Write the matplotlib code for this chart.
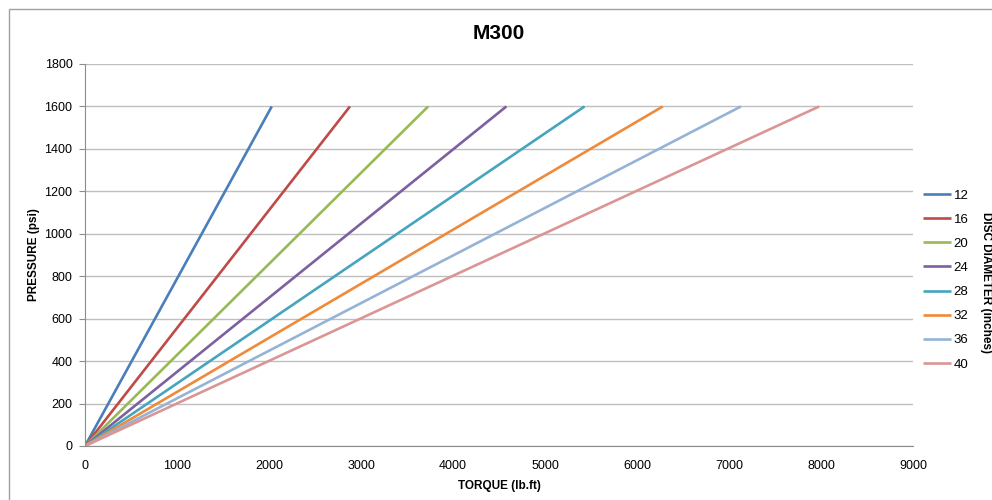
import matplotlib
matplotlib.use("Agg")
import matplotlib.pyplot as plt
from matplotlib.patches import Rectangle

diameters = ["12", "16", "20", "24", "28", "32", "36", "40"]
max_torque = [2030, 2880, 3730, 4580, 5430, 6280, 7130, 7980]
pressure_range = [0, 1600]
colors = ["#4A7EBB", "#BE4B48", "#98B954", "#7D60A0", "#46A5BE", "#EE8A3A", "#95B3D7", "#D99694"]
xticks = [0, 1000, 2000, 3000, 4000, 5000, 6000, 7000, 8000, 9000]
yticks = [0, 200, 400, 600, 800, 1000, 1200, 1400, 1600, 1800]

plt.rcParams['font.family'] = ['Liberation Sans', 'DejaVu Sans']
narrow = ['Liberation Sans Narrow', 'Liberation Sans', 'DejaVu Sans']

fig = plt.figure(figsize=(9.92, 5.0), dpi=100)
fig.patches.append(Rectangle((9/992, -0.1), 1.2, (500-9)/500 + 0.1, transform=fig.transFigure,
                             fill=False, edgecolor="#A0A0A0", linewidth=1.0))
ax = fig.add_axes([85/992, 54/500, 828/992, 382/500])

for d, t, c in zip(diameters, max_torque, colors):
    ax.plot([0, t], pressure_range, color=c, linewidth=1.9, label=d, solid_capstyle='butt')

ax.set_xlim(0, 9000)
ax.set_ylim(0, 1800)
ax.set_xticks(xticks)
ax.set_yticks(yticks)
ax.set_xticklabels([str(v) for v in xticks], fontsize=9, family=narrow)
ax.set_yticklabels([str(v) for v in yticks], fontsize=9, family=narrow)
ax.yaxis.grid(True, color="#BFBFBF", linewidth=1.0)
ax.set_axisbelow(True)
for s in ["top", "right"]:
    ax.spines[s].set_visible(False)
for s in ["left", "bottom"]:
    ax.spines[s].set_color("#8C8C8C")
ax.tick_params(axis="x", length=0, pad=10)
ax.tick_params(axis="y", length=4, color="#8C8C8C", pad=5)

ax.set_title("M300", fontsize=15, fontweight="bold", pad=18)
ax.set_xlabel("TORQUE (lb.ft)", fontsize=8.5, fontweight="bold", labelpad=6, family=narrow)
ax.yaxis.set_label_coords(-45/828, 0.5)
ax.set_ylabel("PRESSURE (psi)", fontsize=8.5, fontweight="bold", family=narrow)

leg = ax.legend(loc="center left", bbox_to_anchor=(0.998, (446-280)/382), frameon=False,
                prop={'family': narrow, 'size': 9.5}, handlelength=2.1, handletextpad=0.2,
                labelspacing=0.9)
fig.text(986/992, (500-283)/500, "DISC DIAMETER (inches)", rotation=-90, fontsize=8.5,
         fontweight="bold", ha="center", va="center", family=narrow)

fig.savefig("out.png", dpi=100)
